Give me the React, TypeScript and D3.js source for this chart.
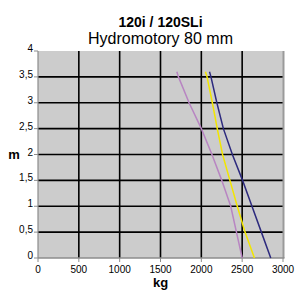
import * as React from "react";
import * as d3 from "d3";

const heights = [3.6, 3.5, 3, 2.5, 2, 1.5, 1, 0.5, 0];
const purpleKg = [1700, 1720, 1850, 2000, 2130, 2250, 2360, 2430, 2500];
const yellowKg = [2050, 2070, 2135, 2195, 2260, 2350, 2440, 2535, 2650];
const navyKg = [2100, 2118, 2190, 2270, 2380, 2505, 2620, 2735, 2850];
const xTicks = [0, 500, 1000, 1500, 2000, 2500, 3000];
const yTicks = [0, 0.5, 1, 1.5, 2, 2.5, 3, 3.5, 4];

const series = [
  { name: "purple", kg: purpleKg, color: "#b885c2" },
  { name: "yellow", kg: yellowKg, color: "#f2e600" },
  { name: "navy", kg: navyKg, color: "#2d2a7e" },
];

const W = 296;
const H = 291;
const m = { left: 38, right: 13, top: 51, bottom: 33 };

const fmt = (v: number) => String(v).replace(".", ",");

export default function App() {
  const x = d3.scaleLinear().domain([0, 3000]).range([m.left, W - m.right]);
  const y = d3.scaleLinear().domain([0, 4]).range([H - m.bottom, m.top]);

  const line = d3
    .line<[number, number]>()
    .x((d) => x(d[0]))
    .y((d) => y(d[1]));

  const font = "'Liberation Sans', Arial, sans-serif";

  return (
    <svg
      width={W}
      height={H}
      style={{ position: "absolute", left: 0, top: 0, fontFamily: font }}
    >
      <rect x={0} y={0} width={W} height={H} fill="#fff" />
      <rect
        x={x(0)}
        y={y(4)}
        width={x(3000) - x(0)}
        height={y(0) - y(4)}
        fill="#cccccc"
      />
      {xTicks.slice(1, -1).map((t) => (
        <line
          key={"vx" + t}
          x1={x(t)}
          x2={x(t)}
          y1={y(4)}
          y2={y(0)}
          stroke="#000"
          strokeWidth={1.6}
        />
      ))}
      {yTicks.slice(1, -1).map((t) => (
        <line
          key={"hy" + t}
          x1={x(0)}
          x2={x(3000)}
          y1={y(t)}
          y2={y(t)}
          stroke="#000"
          strokeWidth={1.6}
        />
      ))}
      <line x1={x(3000) + 0.5} x2={x(3000) + 0.5} y1={y(4)} y2={y(0)} stroke="#9a9a9a" strokeWidth={2} />
      <line x1={x(0)} x2={x(0)} y1={y(4)} y2={y(0)} stroke="#8c8c8c" strokeWidth={1.2} />
      <line x1={x(0)} x2={x(3000) + 1.5} y1={y(0)} y2={y(0)} stroke="#8c8c8c" strokeWidth={1.5} />
      {series.map((s) => (
        <path
          key={s.name}
          d={line(s.kg.map((k, i) => [k, heights[i]] as [number, number])) || ""}
          fill="none"
          stroke={s.color}
          strokeWidth={1.5}
        />
      ))}
      {yTicks.map((t) => (
        <g key={"yt" + t}>
          <line x1={x(0) - 4} x2={x(0)} y1={y(t)} y2={y(t)} stroke="#8c8c8c" />
          <text x={x(0) - 5} y={y(t) + 1} fontSize={10} textAnchor="end" fill="#000">
            {fmt(t)}
          </text>
        </g>
      ))}
      {xTicks.map((t) => (
        <g key={"xt" + t}>
          <line x1={x(t)} x2={x(t)} y1={y(0)} y2={y(0) + 4} stroke="#8c8c8c" />
          <text x={x(t)} y={y(0) + 15} fontSize={10} textAnchor="middle" fill="#000">
            {t}
          </text>
        </g>
      ))}
      <text x={160.5} y={26.5} fontSize={14} fontWeight="bold" textAnchor="middle">
        120i / 120SLi
      </text>
      <text x={160.5} y={44} fontSize={16} textAnchor="middle">
        Hydromotory 80 mm
      </text>
      <text x={14} y={159} fontSize={13} fontWeight="bold" textAnchor="middle">
        m
      </text>
      <text x={160.5} y={287} fontSize={13} fontWeight="bold" textAnchor="middle">
        kg
      </text>
    </svg>
  );
}
